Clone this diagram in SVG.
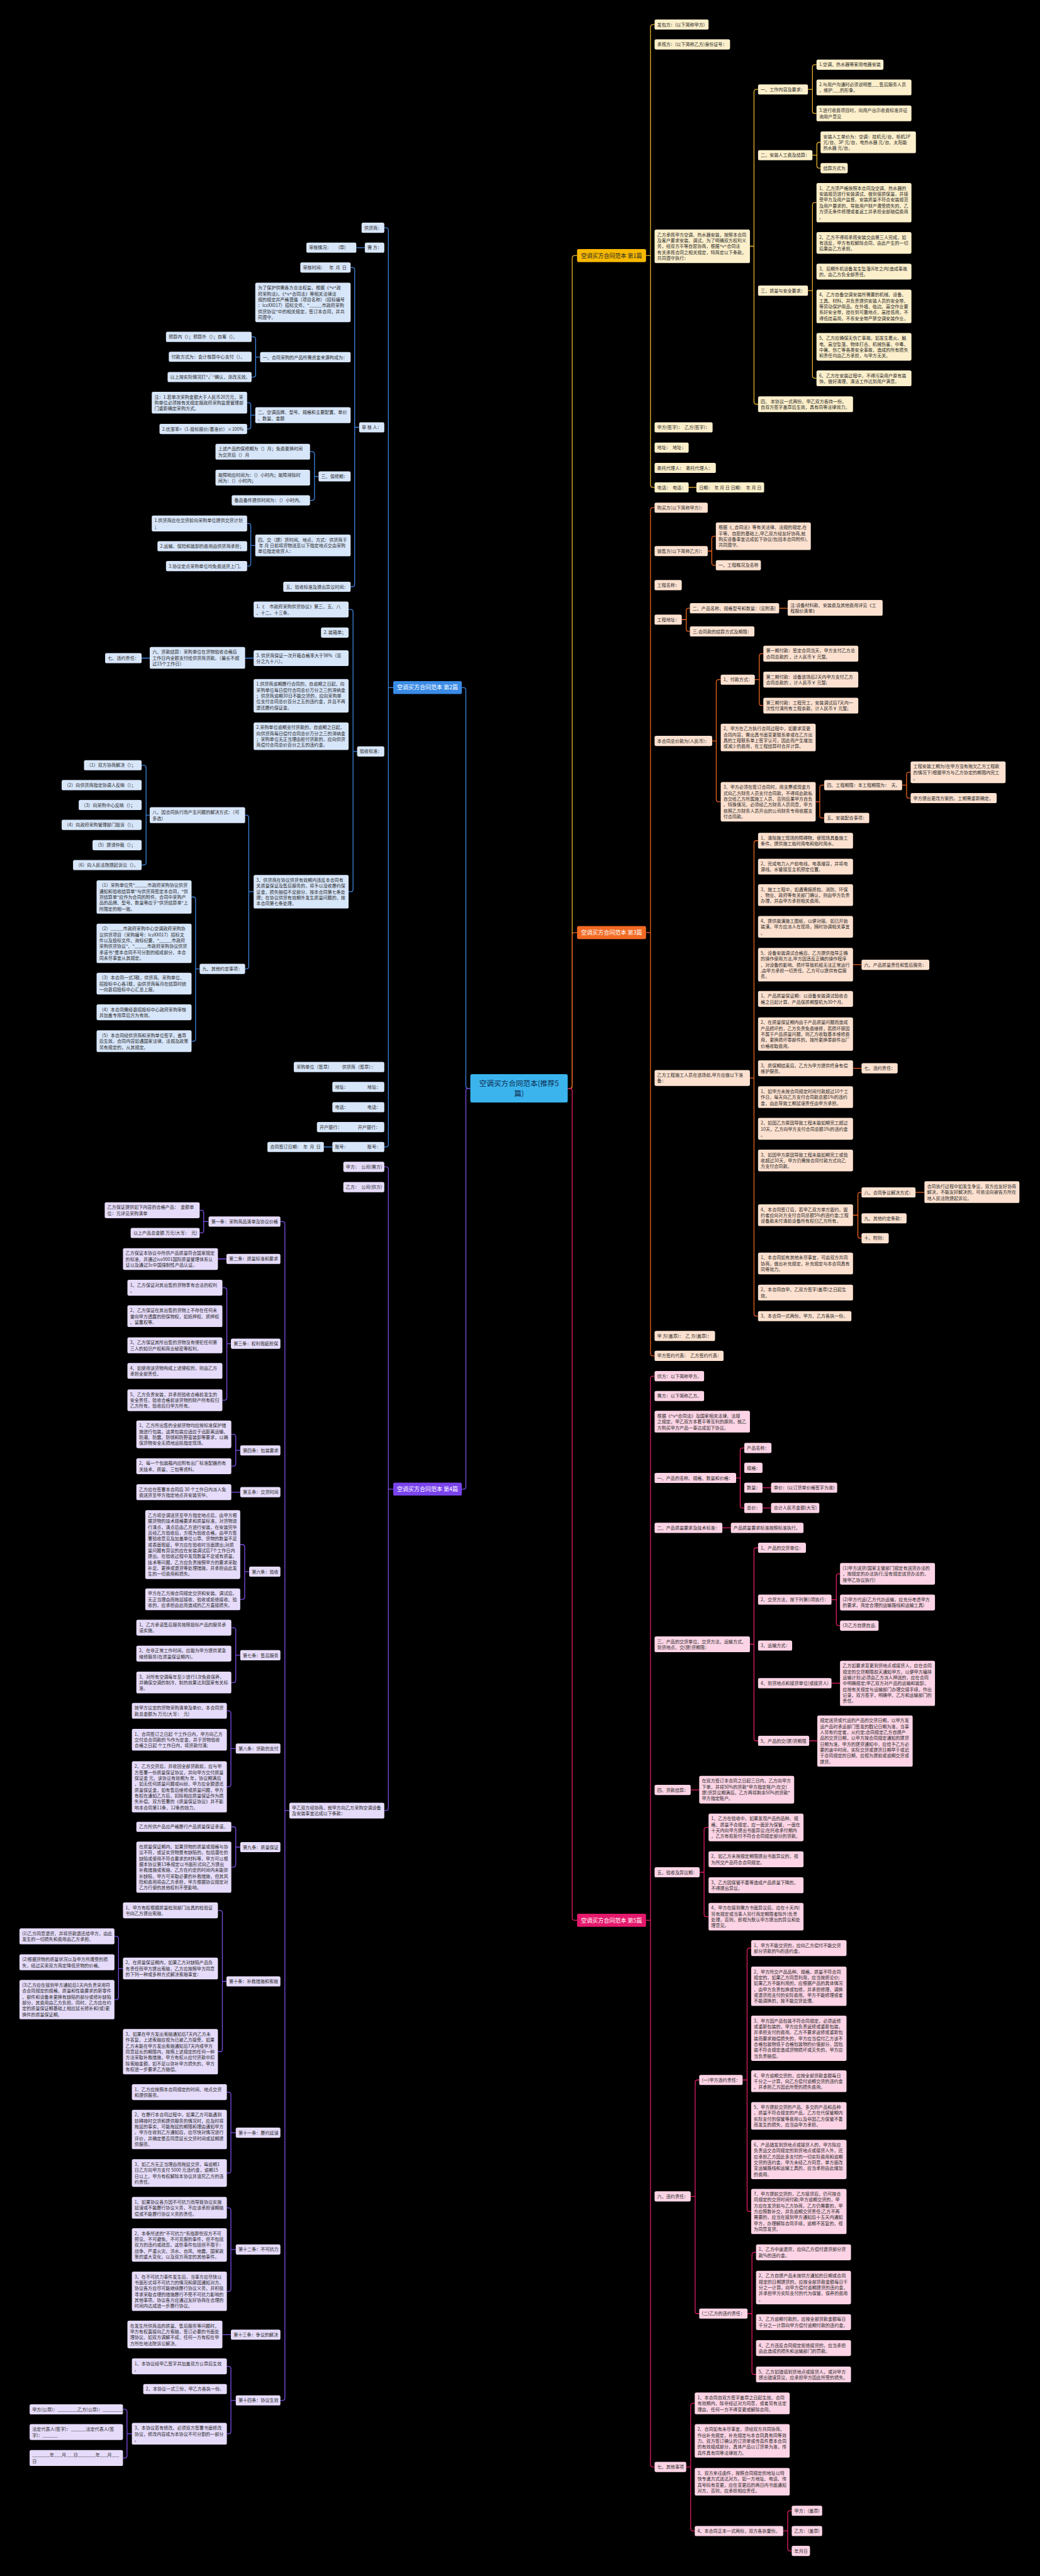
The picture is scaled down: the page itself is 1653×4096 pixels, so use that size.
<svg xmlns="http://www.w3.org/2000/svg" width="1653" height="4096" viewBox="0 0 1653 4096">
<style>
text{font-family:"Noto Sans CJK SC","Noto Sans",sans-serif;font-size:11px;fill:#2a2a2a}
.y rect{fill:#fcefcb}.o rect{fill:#fde1d0}.p rect{fill:#fcd4e5}.b rect{fill:#d8e6fa}.v rect{fill:#e6dcfa}
.lbl text{font-size:14px;fill:#fff;text-anchor:middle}
#links path{fill:none;stroke-width:2}
.cy{stroke:#e9b52c}.co{stroke:#ee6420}.cp{stroke:#e21d67}.cb{stroke:#3f87e3}.cv{stroke:#7d4fe6}
</style>
<rect width="1653" height="4096" fill="#000"/>
<g transform="scale(0.645)">
<g id="links">
<path class="cy" d="M1399,2683 H1404 Q1410,2683 1410,2677 V636 Q1410,630 1416,630 H1422"/>
<path class="co" d="M1399,2683 H1404 Q1410,2683 1410,2677 V2305 Q1410,2299 1416,2299 H1422"/>
<path class="cp" d="M1399,2683 H1404 Q1410,2683 1410,2689 V4728 Q1410,4734 1416,4734 H1422"/>
<path class="cb" d="M1159,2683 H1154 Q1148,2683 1148,2677 V1701 Q1148,1695 1142,1695 H1138"/>
<path class="cv" d="M1159,2683 H1154 Q1148,2683 1148,2689 V3665 Q1148,3671 1142,3671 H1138"/>
<path class="cy" d="M1592,630 H1603 M1613,60.5 H1609 Q1603,60.5 1603,66.5 V1195.5 Q1603,1201.5 1609,1201.5 H1613"/>
<path class="cy" d="M1695,1201.5 H1716"/>
<path class="cy" d="M1848,607 H1858 M1868,220.5 H1864 Q1858,220.5 1858,226.5 V990.5 Q1858,996.5 1864,996.5 H1868"/>
<path class="cy" d="M1991,220.5 H2002 M2012,159.5 H2008 Q2002,159.5 2002,165.5 V273.5 Q2002,279.5 2008,279.5 H2012"/>
<path class="cy" d="M2002,382.5 H2013 M2022,350.75 H2019 Q2013,350.75 2013,356.75 V408.5 Q2013,414.5 2019,414.5 H2022"/>
<path class="cy" d="M1991,716.5 H2002 M2012,499.5 H2008 Q2002,499.5 2002,505.5 V926.5 Q2002,932.5 2008,932.5 H2012"/>
<path class="co" d="M1592,2299 H1603 M1613,1251.5 H1609 Q1603,1251.5 1603,1257.5 V3336.5 Q1603,3342.5 1609,3342.5 H1613"/>
<path class="co" d="M1744,1358.5 H1754 M1764,1322 H1760 Q1754,1322 1754,1328 V1387.5 Q1754,1393.5 1760,1393.5 H1764"/>
<path class="co" d="M1680,1527.5 H1691 M1700,1499.5 H1697 Q1691,1499.5 1691,1505.5 V1550.5 Q1691,1556.5 1697,1556.5 H1700"/>
<path class="co" d="M1920,1499.5 H1941"/>
<path class="co" d="M1755,1826.5 H1765 M1776,1675.5 H1771 Q1765,1675.5 1765,1681.5 V1970.5 Q1765,1976.5 1771,1976.5 H1776"/>
<path class="co" d="M1860,1675.5 H1871 M1881,1611.5 H1877 Q1871,1611.5 1871,1617.5 V1733.5 Q1871,1739.5 1877,1739.5 H1881"/>
<path class="co" d="M2010,1976.5 H2020 M2031,1935.5 H2026 Q2020,1935.5 2020,1941.5 V2010.5 Q2020,2016.5 2026,2016.5 H2031"/>
<path class="co" d="M2223,1935.5 H2234 M2244,1903.75 H2240 Q2234,1903.75 2234,1909.75 V1961.5 Q2234,1967.5 2240,1967.5 H2244"/>
<path class="co" d="M1848,2657.5 H1858 M1868,2072.5 H1864 Q1858,2072.5 1858,2078.5 V3238.5 Q1858,3244.5 1864,3244.5 H1868"/>
<path class="co" d="M2102,2378.25 H2123 M2102,2633.5 H2123 M2256,2939.5 H2278"/>
<path class="co" d="M2102,2995.75 H2114 M2123,2939.5 H2120 Q2114,2939.5 2114,2945.5 V3046.5 Q2114,3052.5 2120,3052.5 H2123"/>
<path class="cp" d="M1592,4734 H1603 M1613,3392.5 H1609 Q1603,3392.5 1603,3398.5 V6075.5 Q1603,6081.5 1609,6081.5 H1613"/>
<path class="cp" d="M1814,3643.5 H1824 M1834,3569.5 H1830 Q1824,3569.5 1824,3575.5 V3711.5 Q1824,3717.5 1830,3717.5 H1834"/>
<path class="cp" d="M1879,3667.5 H1900 M1879,3717.5 H1900 M1780,3766.5 H1801 M2049,4149.5 H2070 M1994,4291.5 H2014 M1702,4412.5 H1723"/>
<path class="cp" d="M1848,4053.5 H1858 M1868,3815.5 H1864 Q1858,3815.5 1858,3821.5 V4285.5 Q1858,4291.5 1864,4291.5 H1868"/>
<path class="cp" d="M2049,3943.5 H2061 M2070,3879.75 H2067 Q2061,3879.75 2061,3885.75 V4001.5 Q2061,4007.5 2067,4007.5 H2070"/>
<path class="cp" d="M1724,4615.5 H1735 M1746,4505 H1741 Q1735,4505 1735,4511 V4719 Q1735,4725 1741,4725 H1746"/>
<path class="cp" d="M1702,5414.5 H1713 M1723,5127.5 H1719 Q1713,5127.5 1713,5133.5 V5697.5 Q1713,5703.5 1719,5703.5 H1723"/>
<path class="cp" d="M1830,5127.5 H1841 M1851,4802.5 H1847 Q1841,4802.5 1841,4808.5 V5445.75 Q1841,5451.75 1847,5451.75 H1851"/>
<path class="cp" d="M1842,5703.5 H1853 M1863,5552.5 H1859 Q1853,5552.5 1853,5558.5 V5847.5 Q1853,5853.5 1859,5853.5 H1863"/>
<path class="cp" d="M1691,6081.5 H1702 M1712,5924.75 H1708 Q1702,5924.75 1702,5930.75 V6233.5 Q1702,6239.5 1708,6239.5 H1712"/>
<path class="cp" d="M1930,6239.5 H1941 M1951,6189.5 H1947 Q1941,6189.5 1941,6195.5 V6282.5 Q1941,6288.5 1947,6288.5 H1951"/>
<path class="cb" d="M969,1695 H957 M947,561.5 H951 Q957,561.5 957,567.5 V2821.5 Q957,2827.5 951,2827.5 H947"/>
<path class="cb" d="M899,610.5 H878 M819,2827.5 H798 M625,1622.5 H604 M369,1622.5 H349"/>
<path class="cb" d="M885,1053.5 H874 M864,659.5 H868 Q874,659.5 874,665.5 V1440.5 Q874,1446.5 868,1446.5 H864"/>
<path class="cb" d="M641,880.5 H630 M620,830.5 H624 Q630,830.5 630,836.5 V923.5 Q630,929.5 624,929.5 H620"/>
<path class="cb" d="M629,1023.5 H618 M609,992.75 H612 Q618,992.75 618,998.75 V1051.5 Q618,1057.5 612,1057.5 H609"/>
<path class="cb" d="M785,1174.5 H775 M764,1113.5 H769 Q775,1113.5 775,1119.5 V1227.5 Q775,1233.5 769,1233.5 H764"/>
<path class="cb" d="M629,1344.75 H618 M609,1290.5 H612 Q618,1290.5 618,1296.5 V1389.5 Q618,1395.5 612,1395.5 H609"/>
<path class="cb" d="M880,1852.5 H870 M859,1502.5 H864 Q870,1502.5 870,1508.5 V2192.25 Q870,2198.25 864,2198.25 H859"/>
<path class="cb" d="M625,2198.25 H613 M604,2009.5 H607 Q613,2009.5 613,2015.5 V2382.5 Q613,2388.5 607,2388.5 H604"/>
<path class="cb" d="M369,2009.5 H360 M349,1886.5 H354 Q360,1886.5 360,1892.5 V2126.5 Q360,2132.5 354,2132.5 H349"/>
<path class="cb" d="M492,2388.5 H482 M472,2211.25 H476 Q482,2211.25 482,2217.25 V2560.75 Q482,2566.75 476,2566.75 H472"/>
<path class="cv" d="M969,3671 H957 M947,2876.5 H951 Q957,2876.5 957,2882.5 V4457.5 Q957,4463.5 951,4463.5 H947"/>
<path class="cv" d="M713,4463.5 H702 M691,3011.5 H696 Q702,3011.5 702,3017.5 V5911.5 Q702,5917.5 696,5917.5 H691"/>
<path class="cv" d="M514,3011.5 H502 M492,2983.5 H496 Q502,2983.5 502,2989.5 V3033.5 Q502,3039.5 496,3039.5 H492"/>
<path class="cv" d="M558,3103.5 H537 M592,3678.5 H570 M569,5755.5 H548"/>
<path class="cv" d="M569,3312.5 H559 M548,3174.5 H553 Q559,3174.5 559,3180.5 V3445.75 Q559,3451.75 553,3451.75 H548"/>
<path class="cv" d="M592,3575.5 H581 M570,3536 H575 Q581,3536 581,3542 V3608.5 Q581,3614.5 575,3614.5 H570"/>
<path class="cv" d="M614,3874.5 H603 M592,3807.75 H597 Q603,3807.75 603,3813.75 V3936.75 Q603,3942.75 597,3942.75 H592"/>
<path class="cv" d="M592,4080.5 H581 M570,4012.5 H575 Q581,4012.5 581,4018.5 V4141.75 Q581,4147.75 575,4147.75 H570"/>
<path class="cv" d="M581,4310.5 H569 M559,4217.5 H563 Q569,4217.5 569,4223.5 V4399 Q569,4405 563,4405 H559"/>
<path class="cv" d="M592,4553.5 H581 M570,4503.5 H575 Q581,4503.5 581,4509.5 V4597 Q581,4603 575,4603 H570"/>
<path class="cv" d="M558,4884.5 H548 M537,4709.5 H542 Q548,4709.5 548,4715.5 V5051.75 Q548,5057.75 542,5057.75 H537"/>
<path class="cv" d="M303,4852.75 H292 M282,4773.5 H286 Q292,4773.5 292,4779.5 V4923.5 Q292,4929.5 286,4929.5 H282"/>
<path class="cv" d="M581,5257.5 H569 M559,5157.5 H563 Q569,5157.5 569,5163.5 V5351 Q569,5357 563,5357 H559"/>
<path class="cv" d="M581,5545.5 H569 M559,5442.75 H563 Q569,5442.75 569,5448.75 V5642.5 Q569,5648.5 563,5648.5 H559"/>
<path class="cv" d="M581,5917.5 H569 M559,5833.5 H563 Q569,5833.5 569,5839.5 V5993.75 Q569,5999.75 563,5999.75 H559"/>
<path class="cv" d="M325,5999.75 H313 M303,5939.5 H307 Q313,5939.5 313,5945.5 V6053.5 Q313,6059.5 307,6059.5 H303"/>
</g>

<g id="center" transform="translate(1159,2648)"><rect width="240" height="70" rx="5" fill="#3bb4ee"/><text x="120" y="29" style="font-size:18px;fill:#0d2b4d;text-anchor:middle">空调买方合同范本(推荐5</text><text x="120" y="55" style="font-size:18px;fill:#0d2b4d;text-anchor:middle">篇)</text></g>
<g id="label1" class="lbl" transform="translate(1422,614)"><rect width="170" height="32" rx="4" fill="#f6b800"/><text x="85" y="21" style="fill:#2a2a2a">空调买方合同范本 第1篇</text></g>
<g id="label3" class="lbl" transform="translate(1422,2283)"><rect width="170" height="32" rx="4" fill="#f26a24"/><text x="85" y="21">空调买方合同范本 第3篇</text></g>
<g id="label5" class="lbl" transform="translate(1422,4718)"><rect width="170" height="32" rx="4" fill="#e5196c"/><text x="85" y="21">空调买方合同范本 第5篇</text></g>
<g id="label2" class="lbl" transform="translate(969,1679)"><rect width="169" height="32" rx="4" fill="#3a8be6"/><text x="84.5" y="21">空调买方合同范本 第2篇</text></g>
<g id="label4" class="lbl" transform="translate(969,3655)"><rect width="169" height="32" rx="4" fill="#7a44ec"/><text x="84.5" y="21">空调买方合同范本 第4篇</text></g>

<g id="b1" class="y">
<g id="A1" transform="translate(1613,48)"><rect width="133" height="25" rx="4"/><text x="6.5" y="16.5">发包方：(以下简称甲方)</text></g>
<g id="A2" transform="translate(1613,97)"><rect width="186" height="25" rx="4"/><text x="6.5" y="16.5">承揽方：(以下简称乙方)身份证号：</text></g>
<g id="A3" transform="translate(1613,566)"><rect width="235" height="82.5" rx="4"/><text y="16.5"><tspan x="6.5">乙方承揽甲方空调、热水器安装，按照本合同</tspan><tspan x="6.5" dy="14.5">及客户要求安装、调试。为了明确双方权利义</tspan><tspan x="6.5" dy="14.5">务，经双方平等自愿协商，根据^v^合同法</tspan><tspan x="6.5" dy="14.5">有关承揽合同之相关规定，特商定以下条款，</tspan><tspan x="6.5" dy="14.5">共同遵守执行：</tspan></text></g>
<g id="A4" transform="translate(1613,1041)"><rect width="143" height="25" rx="4"/><text x="6.5" y="16.5" xml:space="preserve">甲方(签字)：  乙方(签字)：</text></g>
<g id="A5" transform="translate(1613,1091)"><rect width="84" height="25" rx="4"/><text x="6.5" y="16.5" xml:space="preserve">地址：  地址：</text></g>
<g id="A6" transform="translate(1613,1141)"><rect width="151" height="25" rx="4"/><text x="6.5" y="16.5" xml:space="preserve">委托代理人：  委托代理人：</text></g>
<g id="A7" transform="translate(1613,1189)"><rect width="84" height="25" rx="4"/><text x="6.5" y="16.5" xml:space="preserve">电话：  电话：</text></g>
<g id="A7a" transform="translate(1716,1189)"><rect width="167" height="25" rx="4"/><text x="6.5" y="16.5" xml:space="preserve">日期：  年 月 日 日期：  年 月 日</text></g>
<g id="B1" transform="translate(1868,208)"><rect width="123" height="25" rx="4"/><text x="6.5" y="16.5">一、工作内容及要求：</text></g>
<g id="B2" transform="translate(1868,370)"><rect width="134" height="25" rx="4"/><text x="6.5" y="16.5">二、安装人工费及结算：</text></g>
<g id="B3" transform="translate(1868,704)"><rect width="123" height="25" rx="4"/><text x="6.5" y="16.5">三、质量与安全要求：</text></g>
<g id="B4" transform="translate(1868,977)"><rect width="234" height="39" rx="4"/><text y="16.5"><tspan x="6.5">四、 本协议一式两份，甲乙双方各持一份，</tspan><tspan x="6.5" dy="14.5">自双方签字盖章后生效，具有同等法律效力。</tspan></text></g>
<g id="C1" transform="translate(2012,147)"><rect width="165" height="25" rx="4"/><text x="6.5" y="16.5">1.空调、热水器等家用电器安装</text></g>
<g id="C2" transform="translate(2012,196)"><rect width="234" height="39" rx="4"/><text y="16.5"><tspan x="6.5">2.与用户沟通时必须说明是___售后服务人员</tspan><tspan x="6.5" dy="14.5">，维护___的形象。</tspan></text></g>
<g id="C3" transform="translate(2012,260)"><rect width="234" height="39" rx="4"/><text y="16.5"><tspan x="6.5">3.进行收费项目时，向用户出示收费标准并征</tspan><tspan x="6.5" dy="14.5">询用户意见</tspan></text></g>
<g id="C4" transform="translate(2022,324)"><rect width="235" height="53.5" rx="4"/><text y="16.5"><tspan x="6.5">安装人工单价为：空调：挂机元/台、柜机2P</tspan><tspan x="6.5" dy="14.5">元/台、3P 元/台，电热水器 元/台、太阳能</tspan><tspan x="6.5" dy="14.5">热水器 元/台。</tspan></text></g>
<g id="C5" transform="translate(2022,402)"><rect width="67" height="25" rx="4"/><text x="6.5" y="16.5">结算方式为</text></g>
<g id="C6" transform="translate(2012,451)"><rect width="234" height="97" rx="4"/><text y="16.5"><tspan x="6.5">1、乙方须严格按照本合同及空调、热水器的</tspan><tspan x="6.5" dy="14.5">安装规范进行安装调试，做到保质保量，并接</tspan><tspan x="6.5" dy="14.5">受甲方及用户监督。安装质量不符合安装规范</tspan><tspan x="6.5" dy="14.5">及用户要求的、导致用户财产遭受损失的，乙</tspan><tspan x="6.5" dy="14.5">方须无条件修理或者返工并承担全部赔偿费用</tspan><tspan x="6.5" dy="14.5">。</tspan></text></g>
<g id="C7" transform="translate(2012,572)"><rect width="234" height="53.5" rx="4"/><text y="16.5"><tspan x="6.5">2、乙方不得将承揽安装交由第三人完成，如</tspan><tspan x="6.5" dy="14.5">有违反，甲方有权解除合同，由此产生的一切</tspan><tspan x="6.5" dy="14.5">后果由乙方承担。</tspan></text></g>
<g id="C8" transform="translate(2012,650)"><rect width="234" height="39" rx="4"/><text y="16.5"><tspan x="6.5">3、后期外机设备发生坠落(6年之内)造成事故</tspan><tspan x="6.5" dy="14.5">的，由乙方负全部责任。</tspan></text></g>
<g id="C9" transform="translate(2012,714)"><rect width="234" height="82.5" rx="4"/><text y="16.5"><tspan x="6.5">4、乙方自备空调安装所需要的机械、设备、</tspan><tspan x="6.5" dy="14.5">工具、材料，并负责提供安装人员的安全带、</tspan><tspan x="6.5" dy="14.5">等劳动保护用品。在外墙、临边、高空作业要</tspan><tspan x="6.5" dy="14.5">系好安全带，挂在到可靠地点，高挂低用，不</tspan><tspan x="6.5" dy="14.5">得低挂高用，不系安全带严禁空调安装作业。</tspan></text></g>
<g id="C10" transform="translate(2012,821)"><rect width="234" height="68" rx="4"/><text y="16.5"><tspan x="6.5">5、乙方应确保无伤亡事故。如发生着火、触</tspan><tspan x="6.5" dy="14.5">电、高空坠落、物体打击、机械伤害、中毒、</tspan><tspan x="6.5" dy="14.5">中暑、伤亡等各类安全事故，造成的所有损失</tspan><tspan x="6.5" dy="14.5">和责任均由乙方承担，与甲方无关。</tspan></text></g>
<g id="C11" transform="translate(2012,913)"><rect width="234" height="39" rx="4"/><text y="16.5"><tspan x="6.5">6、乙方在安装过程中，不得污染用户原有装</tspan><tspan x="6.5" dy="14.5">饰，做好清理、清洁工作达到用户满意。</tspan></text></g>
</g>

<g id="b3" class="o">
<g id="D1" transform="translate(1613,1239)"><rect width="131" height="25" rx="4"/><text x="6.5" y="16.5">购买方(以下简称甲方)：</text></g>
<g id="D2" transform="translate(1613,1346)"><rect width="131" height="25" rx="4"/><text x="6.5" y="16.5">销售方(以下简称乙方)：</text></g>
<g id="D3" transform="translate(1613,1430)"><rect width="67" height="25" rx="4"/><text x="6.5" y="16.5">工程名称：</text></g>
<g id="D4" transform="translate(1613,1515)"><rect width="67" height="25" rx="4"/><text x="6.5" y="16.5">工程地址：</text></g>
<g id="D5" transform="translate(1613,1814)"><rect width="142" height="25" rx="4"/><text x="6.5" y="16.5">本合同总价款为(人民币)：</text></g>
<g id="D6" transform="translate(1613,2638)"><rect width="235" height="39" rx="4"/><text y="16.5"><tspan x="6.5">乙方工程施工人员在进场前,甲方应做以下准</tspan><tspan x="6.5" dy="14.5">备：</tspan></text></g>
<g id="D7" transform="translate(1613,3281)"><rect width="149" height="25" rx="4"/><text x="6.5" y="16.5" xml:space="preserve">甲 方(盖章)：  乙 方(盖章)：</text></g>
<g id="D8" transform="translate(1613,3330)"><rect width="170" height="25" rx="4"/><text x="6.5" y="16.5" xml:space="preserve">甲方签约代表：  乙方签约代表：</text></g>
<g id="E1" transform="translate(1764,1288)"><rect width="234" height="68" rx="4"/><text y="16.5"><tspan x="6.5">根据《_合同法》等有关法律、法规的规定,在</tspan><tspan x="6.5" dy="14.5">平等、自愿的基础上,甲乙双方经友好协商,就</tspan><tspan x="6.5" dy="14.5">购买设备事宜达成如下协议(包括本合同附件),</tspan><tspan x="6.5" dy="14.5">共同遵守。</tspan></text></g>
<g id="E2" transform="translate(1764,1381)"><rect width="111" height="25" rx="4"/><text x="6.5" y="16.5">一、工程概况及名称</text></g>
<g id="E3" transform="translate(1700,1487)"><rect width="220" height="25" rx="4"/><text x="6.5" y="16.5">二、产品名称、规格型号和数量：(见附表)</text></g>
<g id="E3a" transform="translate(1941,1479)"><rect width="234" height="39" rx="4"/><text y="16.5"><tspan x="6.5">注:设备材料款、安装费及其他费用详见《工</tspan><tspan x="6.5" dy="14.5">程报价清单》</tspan></text></g>
<g id="E4" transform="translate(1700,1544)"><rect width="159" height="25" rx="4"/><text x="6.5" y="16.5">三.合同款的结算方式及期限：</text></g>
<g id="E5" transform="translate(1776,1663)"><rect width="84" height="25" rx="4"/><text x="6.5" y="16.5">1、付款方式：</text></g>
<g id="E6" transform="translate(1776,1784)"><rect width="234" height="68" rx="4"/><text y="16.5"><tspan x="6.5">2、甲方在乙方执行合同过程中，如要求变更</tspan><tspan x="6.5" dy="14.5">合同内容，需出具书面变更联系单或在乙方出</tspan><tspan x="6.5" dy="14.5">具的工程联系单上签字认可，因此而产生增加</tspan><tspan x="6.5" dy="14.5">或减少的费用，在工程结算时合并计算。</tspan></text></g>
<g id="E7" transform="translate(1776,1928)"><rect width="234" height="97" rx="4"/><text y="16.5"><tspan x="6.5">3、甲方必须在签订合同时，用支票或现金方</tspan><tspan x="6.5" dy="14.5">式向乙方财务人员支付合同款，不得将此款私</tspan><tspan x="6.5" dy="14.5">自交给乙方所属施工人员，否则后果甲方自负</tspan><tspan x="6.5" dy="14.5">。特殊情况，必须经乙方财务人员同意，甲方</tspan><tspan x="6.5" dy="14.5">依照乙方财务人员开出的公司财务专用收据支</tspan><tspan x="6.5" dy="14.5">付合同款。</tspan></text></g>
<g id="F1" transform="translate(1881,1592)"><rect width="234" height="39" rx="4"/><text y="16.5"><tspan x="6.5">第一期付款：签定合同当天，甲方支付乙方总</tspan><tspan x="6.5" dy="14.5">合同总款的 ，计人民币￥ 元整,</tspan></text></g>
<g id="F2" transform="translate(1881,1656)"><rect width="234" height="39" rx="4"/><text y="16.5"><tspan x="6.5">第二期付款：设备进场后2天内甲方支付乙方</tspan><tspan x="6.5" dy="14.5">合同总款的 ，计人民币￥ 元整;</tspan></text></g>
<g id="F3" transform="translate(1881,1720)"><rect width="234" height="39" rx="4"/><text y="16.5"><tspan x="6.5">第三期付款：工程完工，安装调试后7天内一</tspan><tspan x="6.5" dy="14.5">次性付清所有工程余款，计人民币￥ 元整;</tspan></text></g>
<g id="F4" transform="translate(2031,1923)"><rect width="192" height="25" rx="4"/><text x="6.5" y="16.5" xml:space="preserve">四、工程期限：本工程期限为：  天。</text></g>
<g id="F5" transform="translate(2031,2004)"><rect width="111" height="25" rx="4"/><text x="6.5" y="16.5">五、安装配合事项：</text></g>
<g id="G1" transform="translate(2244,1877)"><rect width="234" height="53.5" rx="4"/><text y="16.5"><tspan x="6.5">工程安装工期为(在甲方没有拖欠乙方工程款</tspan><tspan x="6.5" dy="14.5">的情况下)根据甲方与乙方协定的期限内完工</tspan><tspan x="6.5" dy="14.5">。</tspan></text></g>
<g id="G2" transform="translate(2244,1955)"><rect width="212" height="25" rx="4"/><text x="6.5" y="16.5">甲方提出更改方案的，工期需重新确定。</text></g>
<g id="H1" transform="translate(1868,2053)"><rect width="234" height="39" rx="4"/><text y="16.5"><tspan x="6.5">1、清除施工现场的障碍物，使现场具备施工</tspan><tspan x="6.5" dy="14.5">条件。提供施工临时用电和临时用水。</tspan></text></g>
<g id="H2" transform="translate(1868,2117)"><rect width="234" height="39" rx="4"/><text y="16.5"><tspan x="6.5">2、完成电力入户前电线，电表增容，并将电</tspan><tspan x="6.5" dy="14.5">源线、水管接至主机预定位置。</tspan></text></g>
<g id="H3" transform="translate(1868,2180)"><rect width="234" height="53.5" rx="4"/><text y="16.5"><tspan x="6.5">3、施工工程中，如遇需报质检、消防、环保</tspan><tspan x="6.5" dy="14.5">、物业、政府等有关部门确认，则由甲方负责</tspan><tspan x="6.5" dy="14.5">办理，并由甲方承担相关费用。</tspan></text></g>
<g id="H4" transform="translate(1868,2258)"><rect width="234" height="53.5" rx="4"/><text y="16.5"><tspan x="6.5">4、提供装潢施工图纸，以便对接。如已开始</tspan><tspan x="6.5" dy="14.5">装潢，甲方应派人在现场，随时协调相关事宜</tspan><tspan x="6.5" dy="14.5">。</tspan></text></g>
<g id="H5" transform="translate(1868,2337)"><rect width="234" height="82.5" rx="4"/><text y="16.5"><tspan x="6.5">5、设备安装调试合格后，乙方提供指导正确</tspan><tspan x="6.5" dy="14.5">的操作使用方法,甲方因违反正确的操作程序</tspan><tspan x="6.5" dy="14.5">，对设备的影响、损坏导致机组无法正常运行</tspan><tspan x="6.5" dy="14.5">,由甲方承担一切责任。乙方可以提供有偿服</tspan><tspan x="6.5" dy="14.5">务。</tspan></text></g>
<g id="H5a" transform="translate(2123,2366)"><rect width="167" height="25" rx="4"/><text x="6.5" y="16.5">六、产品质量责任和售后服务：</text></g>
<g id="H6" transform="translate(1868,2443)"><rect width="234" height="39" rx="4"/><text y="16.5"><tspan x="6.5">1、产品质量保证期：以设备安装调试验收合</tspan><tspan x="6.5" dy="14.5">格之日起计算，产品保质期整机为30个月。</tspan></text></g>
<g id="H7" transform="translate(1868,2508)"><rect width="234" height="82.5" rx="4"/><text y="16.5"><tspan x="6.5">2、在质量保证期内由于产品质量问题而造成</tspan><tspan x="6.5" dy="14.5">产品损坏的，乙方负责免费维修，若损坏原因</tspan><tspan x="6.5" dy="14.5">不属于产品质量问题，则乙方收取基本维修费</tspan><tspan x="6.5" dy="14.5">用，更换损坏零部件的，按所更换零部件出厂</tspan><tspan x="6.5" dy="14.5">价格收取费用。</tspan></text></g>
<g id="H8" transform="translate(1868,2614)"><rect width="234" height="39" rx="4"/><text y="16.5"><tspan x="6.5">3、质保期结束后，乙方为甲方提供终身有偿</tspan><tspan x="6.5" dy="14.5">维护服务。</tspan></text></g>
<g id="H8a" transform="translate(2123,2621)"><rect width="89" height="25" rx="4"/><text x="6.5" y="16.5">七、违约责任：</text></g>
<g id="H9" transform="translate(1868,2678)"><rect width="234" height="53.5" rx="4"/><text y="16.5"><tspan x="6.5">1、如甲方未按合同规定时间付款超过10个工</tspan><tspan x="6.5" dy="14.5">作日，每天向乙方支付合同款总额1%的违约</tspan><tspan x="6.5" dy="14.5">金，由此导致工期延误责任由甲方承担。</tspan></text></g>
<g id="H10" transform="translate(1868,2756)"><rect width="234" height="53.5" rx="4"/><text y="16.5"><tspan x="6.5">2、如因乙方原因导致工程未能如期完工超过</tspan><tspan x="6.5" dy="14.5">10天，乙方向甲方支付合同总额1%的违约金</tspan><tspan x="6.5" dy="14.5">。</tspan></text></g>
<g id="H11" transform="translate(1868,2834)"><rect width="234" height="53.5" rx="4"/><text y="16.5"><tspan x="6.5">3、如因甲方原因导致工程未能如期完工或验</tspan><tspan x="6.5" dy="14.5">收超过30天，甲方仍需按合同付款方式向乙</tspan><tspan x="6.5" dy="14.5">方支付合同款。</tspan></text></g>
<g id="H12" transform="translate(1868,2969)"><rect width="234" height="53.5" rx="4"/><text y="16.5"><tspan x="6.5">4、本合同签订后，若甲乙双方单方毁约，毁</tspan><tspan x="6.5" dy="14.5">约者应向对方支付合同总额5%的违约金;工程</tspan><tspan x="6.5" dy="14.5">设备款未付清前设备所有权归乙方所有。</tspan></text></g>
<g id="H12a" transform="translate(2123,2927)"><rect width="133" height="25" rx="4"/><text x="6.5" y="16.5">八、合同争议解决方式：</text></g>
<g id="H12a1" transform="translate(2278,2912)"><rect width="234" height="53.5" rx="4"/><text y="16.5"><tspan x="6.5">合同执行过程中如发生争议，双方应友好协商</tspan><tspan x="6.5" dy="14.5">解决，不能友好解决的，可依法向被告方所在</tspan><tspan x="6.5" dy="14.5">地人民法院提起诉讼。</tspan></text></g>
<g id="H12b" transform="translate(2123,2991)"><rect width="111" height="25" rx="4"/><text x="6.5" y="16.5">九、其他约定条款：</text></g>
<g id="H12c" transform="translate(2123,3040)"><rect width="67" height="25" rx="4"/><text x="6.5" y="16.5">十、附则：</text></g>
<g id="H13" transform="translate(1868,3088)"><rect width="234" height="53.5" rx="4"/><text y="16.5"><tspan x="6.5">1、本合同如有其他未尽事宜，可由双方共同</tspan><tspan x="6.5" dy="14.5">协商，做出补充规定，补充规定与本合同具有</tspan><tspan x="6.5" dy="14.5">同等效力。</tspan></text></g>
<g id="H14" transform="translate(1868,3167)"><rect width="234" height="39" rx="4"/><text y="16.5"><tspan x="6.5">2、本合同自甲、乙双方签字(盖章)之日起生</tspan><tspan x="6.5" dy="14.5">效。</tspan></text></g>
<g id="H15" transform="translate(1868,3232)"><rect width="230" height="25" rx="4"/><text x="6.5" y="16.5">3、本合同一式两份，甲方、乙方各执一份。</text></g>
</g>

<g id="b5" class="p">
<g id="I1" transform="translate(1613,3380)"><rect width="122" height="25" rx="4"/><text x="6.5" y="16.5">供方：以下简称甲方。</text></g>
<g id="I2" transform="translate(1613,3429)"><rect width="122" height="25" rx="4"/><text x="6.5" y="16.5">需方：以下简称乙方。</text></g>
<g id="I3" transform="translate(1613,3478)"><rect width="235" height="53.5" rx="4"/><text y="16.5"><tspan x="6.5">根据《^v^合同法》及国家相关法律、法规</tspan><tspan x="6.5" dy="14.5">之规定，甲乙双方本着平等互利的原则，就乙</tspan><tspan x="6.5" dy="14.5">方购买甲方产品一事达成如下协议。</tspan></text></g>
<g id="I4" transform="translate(1613,3631)"><rect width="201" height="25" rx="4"/><text x="6.5" y="16.5">一、产品的名称、规格、数量和价格：</text></g>
<g id="I5" transform="translate(1613,3754)"><rect width="167" height="25" rx="4"/><text x="6.5" y="16.5">二、产品质量要求及技术标准：</text></g>
<g id="I6" transform="translate(1613,4034)"><rect width="235" height="39" rx="4"/><text y="16.5"><tspan x="6.5">三、产品的交货单位、交货方法、运输方式、</tspan><tspan x="6.5" dy="14.5">到货地点、交(提)货期限：</tspan></text></g>
<g id="I7" transform="translate(1613,4400)"><rect width="89" height="25" rx="4"/><text x="6.5" y="16.5">四、货款结算：</text></g>
<g id="I8" transform="translate(1613,4603)"><rect width="111" height="25" rx="4"/><text x="6.5" y="16.5">五、验收及异议期：</text></g>
<g id="I9" transform="translate(1613,5402)"><rect width="89" height="25" rx="4"/><text x="6.5" y="16.5">六、违约责任：</text></g>
<g id="I10" transform="translate(1613,6069)"><rect width="78" height="25" rx="4"/><text x="6.5" y="16.5">七、其他事项</text></g>
<g id="J1" transform="translate(1834,3557)"><rect width="67" height="25" rx="4"/><text x="6.5" y="16.5">产品名称：</text></g>
<g id="J2" transform="translate(1834,3606)"><rect width="45" height="25" rx="4"/><text x="6.5" y="16.5">规格：</text></g>
<g id="J3" transform="translate(1834,3655)"><rect width="45" height="25" rx="4"/><text x="6.5" y="16.5">数量：</text></g>
<g id="J3a" transform="translate(1900,3655)"><rect width="163" height="25" rx="4"/><text x="6.5" y="16.5">单价：(以订货单价格签字为准)</text></g>
<g id="J4" transform="translate(1834,3705)"><rect width="45" height="25" rx="4"/><text x="6.5" y="16.5">总价：</text></g>
<g id="J4a" transform="translate(1900,3705)"><rect width="119" height="25" rx="4"/><text x="6.5" y="16.5">合计人民币金额(大写)</text></g>
<g id="J5" transform="translate(1801,3754)"><rect width="179" height="25" rx="4"/><text x="6.5" y="16.5">产品质量要求标准按照标准执行。</text></g>
<g id="K1" transform="translate(1868,3803)"><rect width="118" height="25" rx="4"/><text x="6.5" y="16.5">1、产品的交货单位：</text></g>
<g id="K2" transform="translate(1868,3931)"><rect width="181" height="25" rx="4"/><text x="6.5" y="16.5">2、交货方法，按下列第()项执行：</text></g>
<g id="K2a" transform="translate(2070,3853)"><rect width="234" height="53.5" rx="4"/><text y="16.5"><tspan x="6.5">(1)甲方送货(国家主管部门规定有送货办法的</tspan><tspan x="6.5" dy="14.5">，按规定的办法执行;没有规定送货办法的，</tspan><tspan x="6.5" dy="14.5">按甲乙协议执行)</tspan></text></g>
<g id="K2b" transform="translate(2070,3931)"><rect width="234" height="39" rx="4"/><text y="16.5"><tspan x="6.5">(2)甲方代运(乙方代办运输，应充分考虑甲方</tspan><tspan x="6.5" dy="14.5">的要求，商定合理的运输路线和运输工具)</tspan></text></g>
<g id="K2c" transform="translate(2070,3995)"><rect width="95" height="25" rx="4"/><text x="6.5" y="16.5">(3)乙方自提自运.</text></g>
<g id="K3" transform="translate(1868,4044)"><rect width="84" height="25" rx="4"/><text x="6.5" y="16.5">3、运输方式：</text></g>
<g id="K4" transform="translate(1868,4137)"><rect width="181" height="25" rx="4"/><text x="6.5" y="16.5">4、到货地点和接货单位(或接货人)</text></g>
<g id="K4a" transform="translate(2070,4094)"><rect width="234" height="111.5" rx="4"/><text y="16.5"><tspan x="6.5">乙方如要求变更到货地点或接货人，应在合同</tspan><tspan x="6.5" dy="14.5">规定的交货期限前天通知甲方，以便甲方编排</tspan><tspan x="6.5" dy="14.5">运输计划;必须由乙方派人押送的，应在合同</tspan><tspan x="6.5" dy="14.5">中明确规定;甲乙双方对产品的运输和装卸，</tspan><tspan x="6.5" dy="14.5">应按有关规定与运输部门办理交接手续，作出</tspan><tspan x="6.5" dy="14.5">记录，双方签字，明确甲、乙方和运输部门的</tspan><tspan x="6.5" dy="14.5">责任。</tspan></text></g>
<g id="K5" transform="translate(1868,4279)"><rect width="126" height="25" rx="4"/><text x="6.5" y="16.5">5、产品的交(提)货期限</text></g>
<g id="K5a" transform="translate(2014,4229)"><rect width="235" height="126" rx="4"/><text y="16.5"><tspan x="6.5">规定送货或代运的产品的交货日期，以甲方发</tspan><tspan x="6.5" dy="14.5">运产品时承运部门签发的戳记日期为准，当事</tspan><tspan x="6.5" dy="14.5">人另有约定者，从约定;合同规定乙方自提产</tspan><tspan x="6.5" dy="14.5">品的交货日期，以甲方按合同规定通知的提货</tspan><tspan x="6.5" dy="14.5">日期为准。甲方的提货通知中，应给予乙方必</tspan><tspan x="6.5" dy="14.5">要的途中时间，实际交货或提货日期早于或迟</tspan><tspan x="6.5" dy="14.5">于合同规定的日期，应视为提前或逾期交货或</tspan><tspan x="6.5" dy="14.5">提货。</tspan></text></g>
<g id="K6" transform="translate(1723,4378)"><rect width="234" height="68" rx="4"/><text y="16.5"><tspan x="6.5">在双方签订本合同之日起三日内，乙方向甲方</tspan><tspan x="6.5" dy="14.5">下单，并将50%的货款*甲方指定账户;在交(</tspan><tspan x="6.5" dy="14.5">提)货异议期满后，乙方再将剩余50%的货款*</tspan><tspan x="6.5" dy="14.5">甲方指定账户。</tspan></text></g>
<g id="M1" transform="translate(1746,4471)"><rect width="234" height="68" rx="4"/><text y="16.5"><tspan x="6.5">1、乙方在验收中，如果发现产品的品种、规</tspan><tspan x="6.5" dy="14.5">格、质量不合规定，应一面妥为保管，一面在</tspan><tspan x="6.5" dy="14.5">十天内向甲方提出书面异议;在托收承付期内</tspan><tspan x="6.5" dy="14.5">，乙方有权拒付不符合合同规定部分的货款。</tspan></text></g>
<g id="M2" transform="translate(1746,4564)"><rect width="234" height="39" rx="4"/><text y="16.5"><tspan x="6.5">2、如乙方未按规定期限提出书面异议的，视</tspan><tspan x="6.5" dy="14.5">为所交产品符合合同规定。</tspan></text></g>
<g id="M3" transform="translate(1746,4628)"><rect width="234" height="39" rx="4"/><text y="16.5"><tspan x="6.5">3、乙方因保管不善等造成产品质量下降的，</tspan><tspan x="6.5" dy="14.5">不得提出异议。</tspan></text></g>
<g id="M4" transform="translate(1746,4691)"><rect width="234" height="68" rx="4"/><text y="16.5"><tspan x="6.5">4、甲方在接到需方书面异议后，应在十天内(</tspan><tspan x="6.5" dy="14.5">另有规定或当事人另行商定期限者除外)负责</tspan><tspan x="6.5" dy="14.5">处理，否则，即视为默认甲方提出的异议和处</tspan><tspan x="6.5" dy="14.5">理意见。</tspan></text></g>
<g id="N1" transform="translate(1723,5115)"><rect width="107" height="25" rx="4"/><text x="6.5" y="16.5">(一)甲方违约责任：</text></g>
<g id="N2" transform="translate(1723,5691)"><rect width="119" height="25" rx="4"/><text x="6.5" y="16.5">(二)乙方的违约责任：</text></g>
<g id="O1" transform="translate(1851,4783)"><rect width="235" height="39" rx="4"/><text y="16.5"><tspan x="6.5">1、甲方不能交货的，应向乙方偿付不能交货</tspan><tspan x="6.5" dy="14.5">部分货款的%的违约金。</tspan></text></g>
<g id="O2" transform="translate(1851,4848)"><rect width="235" height="97" rx="4"/><text y="16.5"><tspan x="6.5">2、甲方所交产品品种、规格、质量不符合同</tspan><tspan x="6.5" dy="14.5">规定的，如果乙方同意利用，应当按质论价;</tspan><tspan x="6.5" dy="14.5">如果乙方不能利用的，应根据产品的具体情况</tspan><tspan x="6.5" dy="14.5">，由甲方负责包换或包修，并承担修理、调换</tspan><tspan x="6.5" dy="14.5">或退货而支付的实际费用。甲方不能修理或者</tspan><tspan x="6.5" dy="14.5">不能调换的，按不能交货处理。</tspan></text></g>
<g id="O3" transform="translate(1851,4969)"><rect width="235" height="111.5" rx="4"/><text y="16.5"><tspan x="6.5">3、甲方因产品包装不符合同规定，必须返修</tspan><tspan x="6.5" dy="14.5">或重新包装的，甲方应负责返修或重新包装，</tspan><tspan x="6.5" dy="14.5">并承担支付的费用。乙方不要求返修或重新包</tspan><tspan x="6.5" dy="14.5">装而要求赔偿损失的，甲方应当偿付乙方该不</tspan><tspan x="6.5" dy="14.5">合格包装物低于合格包装物的价值部分。因包</tspan><tspan x="6.5" dy="14.5">装不符合规定造成货物损坏或灭失的，甲方应</tspan><tspan x="6.5" dy="14.5">当负责赔偿。</tspan></text></g>
<g id="O4" transform="translate(1851,5104)"><rect width="235" height="53.5" rx="4"/><text y="16.5"><tspan x="6.5">4、甲方逾期交货的，应按全部货款金额每日</tspan><tspan x="6.5" dy="14.5">千分之一计算，向乙方偿付逾期交货的违约金</tspan><tspan x="6.5" dy="14.5">，并承担乙方因此所受的损失费用。</tspan></text></g>
<g id="O5" transform="translate(1851,5182)"><rect width="235" height="68" rx="4"/><text y="16.5"><tspan x="6.5">5、甲方提前交货的产品、多交的产品和品种</tspan><tspan x="6.5" dy="14.5">、质量不符合规定的产品，乙方在代保管期内</tspan><tspan x="6.5" dy="14.5">实际支付的保管等费用以及非因乙方保管不善</tspan><tspan x="6.5" dy="14.5">而发生的损失，应当由甲方承担。</tspan></text></g>
<g id="O6" transform="translate(1851,5275)"><rect width="235" height="97" rx="4"/><text y="16.5"><tspan x="6.5">6、产品错发到货地点或接货人的，甲方除应</tspan><tspan x="6.5" dy="14.5">负责运交合同规定的到货地点或接货人外，还</tspan><tspan x="6.5" dy="14.5">应承担乙方因此多支付的一切实际费用和逾期</tspan><tspan x="6.5" dy="14.5">交货的违约金。甲方未经乙方同意，单方面改</tspan><tspan x="6.5" dy="14.5">变运输路线和运输工具的，应当承担由此增加</tspan><tspan x="6.5" dy="14.5">的费用。</tspan></text></g>
<g id="O7" transform="translate(1851,5396)"><rect width="235" height="111.5" rx="4"/><text y="16.5"><tspan x="6.5">7、甲方提前交货的，乙方接货后，仍可按合</tspan><tspan x="6.5" dy="14.5">同规定的交货时间付款;甲方逾期交货的，甲</tspan><tspan x="6.5" dy="14.5">方应在发货前与乙方协商，乙方仍需要的，甲</tspan><tspan x="6.5" dy="14.5">方应照数补交，并负逾期交货责任;乙方不再</tspan><tspan x="6.5" dy="14.5">需要的，应当在接到甲方通知后十五天内通知</tspan><tspan x="6.5" dy="14.5">甲方，办理解除合同手续，逾期不答复的，视</tspan><tspan x="6.5" dy="14.5">为同意发货。</tspan></text></g>
<g id="P1" transform="translate(1863,5533)"><rect width="234" height="39" rx="4"/><text y="16.5"><tspan x="6.5">1、乙方中途退货，应向乙方偿付退货部分货</tspan><tspan x="6.5" dy="14.5">款%的违约金。</tspan></text></g>
<g id="P2" transform="translate(1863,5598)"><rect width="234" height="82.5" rx="4"/><text y="16.5"><tspan x="6.5">2、乙方自提产品未按供方通知的日期或合同</tspan><tspan x="6.5" dy="14.5">规定的日期提货的，应按全部货款金额每日千</tspan><tspan x="6.5" dy="14.5">分之一计算，向甲方偿付逾期提货的违约金，</tspan><tspan x="6.5" dy="14.5">并承担甲方实际支付的代为保管、保养的费用</tspan><tspan x="6.5" dy="14.5">。</tspan></text></g>
<g id="P3" transform="translate(1863,5705)"><rect width="234" height="39" rx="4"/><text y="16.5"><tspan x="6.5">3、乙方逾期付款的，应按全部货款金额每日</tspan><tspan x="6.5" dy="14.5">千分之一计算向甲方偿付逾期付款的违约金。</tspan></text></g>
<g id="P4" transform="translate(1863,5769)"><rect width="234" height="39" rx="4"/><text y="16.5"><tspan x="6.5">4、乙方违反合同规定拒绝接货的，应当承担</tspan><tspan x="6.5" dy="14.5">由此造成的损失和运输部门的罚款。</tspan></text></g>
<g id="P5" transform="translate(1863,5834)"><rect width="234" height="39" rx="4"/><text y="16.5"><tspan x="6.5">5、乙方如错填到货地点或接货人，或对甲方</tspan><tspan x="6.5" dy="14.5">提出错误异议，应承担甲方因此所受的损失。</tspan></text></g>
<g id="Q1" transform="translate(1712,5898)"><rect width="234" height="53.5" rx="4"/><text y="16.5"><tspan x="6.5">1、本合同自双方签字盖章之日起生效。合同</tspan><tspan x="6.5" dy="14.5">有效期内，除非经过对方同意，或者另有法定</tspan><tspan x="6.5" dy="14.5">理由，任何一方不得变更或解除合同。</tspan></text></g>
<g id="Q2" transform="translate(1712,5976)"><rect width="234" height="82.5" rx="4"/><text y="16.5"><tspan x="6.5">2、合同如有未尽事宜，须经双方共同协商，</tspan><tspan x="6.5" dy="14.5">作出补充规定，补充规定与本合同具有同等效</tspan><tspan x="6.5" dy="14.5">力。双方签订确认的订货单或传真件是本合同</tspan><tspan x="6.5" dy="14.5">的有效组成部分，具体产品以订货单为准，传</tspan><tspan x="6.5" dy="14.5">真件具有同等法律效力。</tspan></text></g>
<g id="Q3" transform="translate(1712,6084)"><rect width="234" height="68" rx="4"/><text y="16.5"><tspan x="6.5">3、双方来往函件，按照合同规定的地址以特</tspan><tspan x="6.5" dy="14.5">快专递方式送达对方。如一方地址、电话、传</tspan><tspan x="6.5" dy="14.5">真号码有变更，应在变更后的两日内书面通知</tspan><tspan x="6.5" dy="14.5">对方，否则，应承担相应责任。</tspan></text></g>
<g id="Q4" transform="translate(1712,6227)"><rect width="218" height="25" rx="4"/><text x="6.5" y="16.5">4、本合同正本一式两份，双方各执壹份。</text></g>
<g id="Q4a" transform="translate(1951,6177)"><rect width="75" height="25" rx="4"/><text x="6.5" y="16.5">甲方：(盖章)</text></g>
<g id="Q4b" transform="translate(1951,6227)"><rect width="75" height="25" rx="4"/><text x="6.5" y="16.5">乙方：(盖章)</text></g>
<g id="Q4c" transform="translate(1951,6276)"><rect width="45" height="25" rx="4"/><text x="6.5" y="16.5">年月日</text></g>
</g>

<g id="b2" class="b">
<g id="R1" transform="translate(891,549)"><rect width="56" height="25" rx="4"/><text x="6.5" y="16.5">供货商：</text></g>
<g id="R2" transform="translate(899,598)"><rect width="48" height="25" rx="4"/><text x="6.5" y="16.5">需 方：</text></g>
<g id="R2a" transform="translate(755,598)"><rect width="123" height="25" rx="4"/><text x="6.5" y="16.5" xml:space="preserve">审核情况：       (章)</text></g>
<g id="R3" transform="translate(885,1041)"><rect width="62" height="25" rx="4"/><text x="6.5" y="16.5">审 核 人：</text></g>
<g id="R4" transform="translate(880,1840)"><rect width="67" height="25" rx="4"/><text x="6.5" y="16.5">验收标准：</text></g>
<g id="R5" transform="translate(724,2618)"><rect width="223" height="25" rx="4"/><text x="6.5" y="16.5" xml:space="preserve">采购单位（签章）          供货商（签章）：</text></g>
<g id="R6" transform="translate(819,2667)"><rect width="128" height="25" rx="4"/><text x="6.5" y="16.5" xml:space="preserve">地址：                   地址：</text></g>
<g id="R7" transform="translate(819,2717)"><rect width="128" height="25" rx="4"/><text x="6.5" y="16.5" xml:space="preserve">电话：                   电话：</text></g>
<g id="R8" transform="translate(781,2766)"><rect width="166" height="25" rx="4"/><text x="6.5" y="16.5" xml:space="preserve">开户银行：                开户银行：</text></g>
<g id="R9" transform="translate(819,2815)"><rect width="128" height="25" rx="4"/><text x="6.5" y="16.5" xml:space="preserve">账号：                   账号：</text></g>
<g id="R9a" transform="translate(659,2815)"><rect width="139" height="25" rx="4"/><text x="6.5" y="16.5" xml:space="preserve">合同签订日期：  年  月  日</text></g>
<g id="S1" transform="translate(740,647)"><rect width="124" height="25" rx="4"/><text x="6.5" y="16.5" xml:space="preserve">审核时间：    年  月  日</text></g>
<g id="S2" transform="translate(629,697)"><rect width="235" height="97" rx="4"/><text y="16.5"><tspan x="6.5">为了保护供需各方合法权益，根据《^v^政</tspan><tspan x="6.5" dy="14.5">府采购法》、《^v^合同法》等相关法律法</tspan><tspan x="6.5" dy="14.5">规的规定并严格遵循（项目名称）（招标编号</tspan><tspan x="6.5" dy="14.5">：lczXX017）招标文件、"_____市政府采购</tspan><tspan x="6.5" dy="14.5">供货协议"中的相关规定，签订本合同，并共</tspan><tspan x="6.5" dy="14.5">同遵守。</tspan></text></g>
<g id="S3" transform="translate(641,868)"><rect width="223" height="25" rx="4"/><text x="6.5" y="16.5">一、合同采购的产品所需资金来源构成为：</text></g>
<g id="S4" transform="translate(629,1004)"><rect width="235" height="39" rx="4"/><text y="16.5"><tspan x="6.5">二、空调品牌、型号、规格和主要配置、单价</tspan><tspan x="6.5" dy="14.5">、数量、金额</tspan></text></g>
<g id="S5" transform="translate(785,1162)"><rect width="79" height="25" rx="4"/><text x="6.5" y="16.5">三、保修期：</text></g>
<g id="S6" transform="translate(629,1318)"><rect width="235" height="53.5" rx="4"/><text y="16.5"><tspan x="6.5">四、交（提）货时间、地点、方式：供货商于</tspan><tspan x="6.5" dy="14.5"> 年 月 日前将货物送至以下指定地点交由采购</tspan><tspan x="6.5" dy="14.5">单位指定收货人：</tspan></text></g>
<g id="S7" transform="translate(698,1434)"><rect width="166" height="25" rx="4"/><text x="6.5" y="16.5">五、验收标准及提出异议时间：</text></g>
<g id="T1" transform="translate(409,818)"><rect width="211" height="25" rx="4"/><text x="6.5" y="16.5">预算内（）；预算外（）；自筹（）。</text></g>
<g id="T2" transform="translate(416,867)"><rect width="204" height="25" rx="4"/><text x="6.5" y="16.5">付款方式为：会计核算中心支付（）。</text></g>
<g id="T3" transform="translate(413,917)"><rect width="207" height="25" rx="4"/><text x="6.5" y="16.5">以上按实际情况打"√"确认，涂改无效。</text></g>
<g id="T4" transform="translate(374,966)"><rect width="235" height="53.5" rx="4"/><text y="16.5"><tspan x="6.5">注：1.若单次采购金额大于人民币20万元，采</tspan><tspan x="6.5" dy="14.5">购单位必须按有关规定报政府采购监督管理部</tspan><tspan x="6.5" dy="14.5">门重新确定采购方式。</tspan></text></g>
<g id="T5" transform="translate(393,1045)"><rect width="216" height="25" rx="4"/><text x="6.5" y="16.5">2.优惠率=（1-投标报价/基准价）×100%</text></g>
<g id="T6" transform="translate(531,1094)"><rect width="233" height="39" rx="4"/><text y="16.5"><tspan x="6.5">上述产品的保修期为（）月；免费更换时间</tspan><tspan x="6.5" dy="14.5">为交货后（）月</tspan></text></g>
<g id="T7" transform="translate(531,1158)"><rect width="233" height="39" rx="4"/><text y="16.5"><tspan x="6.5">故障响应时间为：（）小时内；故障排除时</tspan><tspan x="6.5" dy="14.5">间为：（）小时内；</tspan></text></g>
<g id="T8" transform="translate(571,1221)"><rect width="193" height="25" rx="4"/><text x="6.5" y="16.5">备品备件提供时间为：（）小时内。</text></g>
<g id="T9" transform="translate(374,1271)"><rect width="235" height="39" rx="4"/><text y="16.5"><tspan x="6.5">1.供货商应在交货前向采购单位提供交货计划</tspan><tspan x="6.5" dy="14.5">；</tspan></text></g>
<g id="T10" transform="translate(388,1334)"><rect width="221" height="25" rx="4"/><text x="6.5" y="16.5">2.运输、保险和装卸的费用由供货商承担；</text></g>
<g id="T11" transform="translate(409,1383)"><rect width="200" height="25" rx="4"/><text x="6.5" y="16.5">3.协议定点采购单位均免费送货上门。</text></g>
<g id="U1" transform="translate(625,1483)"><rect width="234" height="39" rx="4"/><text y="16.5" xml:space="preserve"><tspan x="6.5">1.《     市政府采购供货协议》第三、五、八</tspan><tspan x="6.5" dy="14.5">、十二、十三条。</tspan></text></g>
<g id="U2" transform="translate(791,1547)"><rect width="68" height="25" rx="4"/><text x="6.5" y="16.5">2. 装箱单；</text></g>
<g id="U3" transform="translate(625,1603)"><rect width="234" height="39" rx="4"/><text y="16.5"><tspan x="6.5">3. 供货商保证一次开箱合格率大于98%（百</tspan><tspan x="6.5" dy="14.5">分之九十八）。</tspan></text></g>
<g id="U3a" transform="translate(369,1595)"><rect width="235" height="53.5" rx="4"/><text y="16.5"><tspan x="6.5">六、货款结算：采购单位在货物验收合格后</tspan><tspan x="6.5" dy="14.5">工作日内全额支付给供货商货款。（最长不超</tspan><tspan x="6.5" dy="14.5">过15个工作日）</tspan></text></g>
<g id="U3a1" transform="translate(259,1610)"><rect width="90" height="25" rx="4"/><text x="6.5" y="16.5">七、违约责任：</text></g>
<g id="U4" transform="translate(625,1674)"><rect width="234" height="82.5" rx="4"/><text y="16.5"><tspan x="6.5">1.供货商逾期履行合同的，自逾期之日起，向</tspan><tspan x="6.5" dy="14.5">采购单位每日偿付合同总价万分之三的滞纳金</tspan><tspan x="6.5" dy="14.5">；供货商逾期30日不能交货的，应向采购单</tspan><tspan x="6.5" dy="14.5">位支付合同总价百分之五的违约金，并且不再</tspan><tspan x="6.5" dy="14.5">退还履约保证金。</tspan></text></g>
<g id="U5" transform="translate(625,1781)"><rect width="234" height="68" rx="4"/><text y="16.5"><tspan x="6.5">2.采购单位逾期支付货款的，自逾期之日起，</tspan><tspan x="6.5" dy="14.5">向供货商每日偿付合同总价万分之三的滞纳金</tspan><tspan x="6.5" dy="14.5">；采购单位无正当理由拒付货款的，应向供货</tspan><tspan x="6.5" dy="14.5">商偿付合同总价百分之五的违约金。</tspan></text></g>
<g id="U6" transform="translate(625,2157)"><rect width="234" height="82.5" rx="4"/><text y="16.5"><tspan x="6.5">3、供货商在协议供货有效期内违反本合同有</tspan><tspan x="6.5" dy="14.5">关质量保证及售后服务的，将予以没收履约保</tspan><tspan x="6.5" dy="14.5">证金，损失赔偿不足部分，按本合同第七条处</tspan><tspan x="6.5" dy="14.5">理；在协议供货有效期外发生质量问题的，按</tspan><tspan x="6.5" dy="14.5">本合同第七条处理。</tspan></text></g>
<g id="V1" transform="translate(369,1990)"><rect width="235" height="39" rx="4"/><text y="16.5"><tspan x="6.5">八、因合同执行而产生问题的解决方式：（可</tspan><tspan x="6.5" dy="14.5">多选）</tspan></text></g>
<g id="V2" transform="translate(492,2376)"><rect width="112" height="25" rx="4"/><text x="6.5" y="16.5">九、其他约定事项：</text></g>
<g id="W1" transform="translate(207,1874)"><rect width="142" height="25" rx="4"/><text x="6.5" y="16.5">（1）双方协商解决（）；</text></g>
<g id="W2" transform="translate(152,1923)"><rect width="197" height="25" rx="4"/><text x="6.5" y="16.5">（2）向供货商指定协调人反映（）；</text></g>
<g id="W3" transform="translate(194,1972)"><rect width="155" height="25" rx="4"/><text x="6.5" y="16.5">（3）向采购中心反映（）；</text></g>
<g id="W4" transform="translate(152,2021)"><rect width="197" height="25" rx="4"/><text x="6.5" y="16.5">（4）向政府采购管理部门投诉（）；</text></g>
<g id="W5" transform="translate(228,2071)"><rect width="121" height="25" rx="4"/><text x="6.5" y="16.5">（5）提请仲裁（）；</text></g>
<g id="W6" transform="translate(180,2120)"><rect width="169" height="25" rx="4"/><text x="6.5" y="16.5">（6）向人民法院提起诉讼（）。</text></g>
<g id="X1" transform="translate(238,2170)"><rect width="234" height="82.5" rx="4"/><text y="16.5"><tspan x="6.5">（1）采购单位凭"_____市政府采购协议供货</tspan><tspan x="6.5" dy="14.5">通知和验收结算单"与供货商签定本合同，"供</tspan><tspan x="6.5" dy="14.5">货结算单"应作为合同的附件。合同中采购产</tspan><tspan x="6.5" dy="14.5">品的品牌、型号、数量等应于"供货结算单"上</tspan><tspan x="6.5" dy="14.5">所限定的相一致。</tspan></text></g>
<g id="X2" transform="translate(238,2277)"><rect width="234" height="97" rx="4"/><text y="16.5"><tspan x="6.5">（2）_____市政府采购中心空调政府采购协</tspan><tspan x="6.5" dy="14.5">议供货项目（采购编号：lczXX017）招标文</tspan><tspan x="6.5" dy="14.5">件以及投标文件、询标纪要、"_____市政府</tspan><tspan x="6.5" dy="14.5">采购供货协议"、"_____市政府采购协议供货</tspan><tspan x="6.5" dy="14.5">承诺书"是本合同不可分割的组成部分，本合</tspan><tspan x="6.5" dy="14.5">同未尽事宜从其规定。</tspan></text></g>
<g id="X3" transform="translate(238,2398)"><rect width="234" height="53.5" rx="4"/><text y="16.5"><tspan x="6.5">（3）本合同一式3联，供货商、采购单位、</tspan><tspan x="6.5" dy="14.5">招投标中心各1联，由供货商每月在结算时统</tspan><tspan x="6.5" dy="14.5">一向县招投标中心汇总上报。</tspan></text></g>
<g id="X4" transform="translate(238,2476)"><rect width="234" height="39" rx="4"/><text y="16.5"><tspan x="6.5">（4）本合同需经县招投标中心政府采购审核</tspan><tspan x="6.5" dy="14.5">并加盖专用章后方为有效。</tspan></text></g>
<g id="X5" transform="translate(238,2540)"><rect width="234" height="53.5" rx="4"/><text y="16.5"><tspan x="6.5">（5）本合同经供货商和采购单位签字、盖章</tspan><tspan x="6.5" dy="14.5">后生效。合同内容如遇国家法律、法规及政策</tspan><tspan x="6.5" dy="14.5">另有规定的，从其规定。</tspan></text></g>
</g>

<g id="b4" class="v">
<g id="Y1" transform="translate(846,2864)"><rect width="101" height="25" rx="4"/><text x="6.5" y="16.5" xml:space="preserve">甲方：  公司(需方)</text></g>
<g id="Y2" transform="translate(846,2914)"><rect width="101" height="25" rx="4"/><text x="6.5" y="16.5" xml:space="preserve">乙方：  公司(供方)</text></g>
<g id="Y3" transform="translate(713,4444)"><rect width="234" height="39" rx="4"/><text y="16.5"><tspan x="6.5">甲乙双方经协商，就甲方向乙方采购空调设备</tspan><tspan x="6.5" dy="14.5">及安装事宜达成以下条款：</tspan></text></g>
<g id="Z1" transform="translate(514,2999)"><rect width="177" height="25" rx="4"/><text x="6.5" y="16.5">第一条：采购商品清单及协议价格</text></g>
<g id="Z2" transform="translate(558,3091)"><rect width="133" height="25" rx="4"/><text x="6.5" y="16.5">第二条：质量标准和要求</text></g>
<g id="Z3" transform="translate(569,3300)"><rect width="122" height="25" rx="4"/><text x="6.5" y="16.5">第三条：权利瑕疵担保</text></g>
<g id="Z4" transform="translate(592,3563)"><rect width="99" height="25" rx="4"/><text x="6.5" y="16.5">第四条：包装要求</text></g>
<g id="Z5" transform="translate(592,3666)"><rect width="99" height="25" rx="4"/><text x="6.5" y="16.5">第五条：交货时间</text></g>
<g id="Z6" transform="translate(614,3862)"><rect width="77" height="25" rx="4"/><text x="6.5" y="16.5">第六条：验收</text></g>
<g id="Z7" transform="translate(592,4068)"><rect width="99" height="25" rx="4"/><text x="6.5" y="16.5">第七条：售后服务</text></g>
<g id="Z8" transform="translate(581,4298)"><rect width="110" height="25" rx="4"/><text x="6.5" y="16.5">第八条：货款的支付</text></g>
<g id="Z9" transform="translate(592,4541)"><rect width="99" height="25" rx="4"/><text x="6.5" y="16.5">第九条：质量保证</text></g>
<g id="Z10" transform="translate(558,4872)"><rect width="133" height="25" rx="4"/><text x="6.5" y="16.5">第十条：补救措施和索赔</text></g>
<g id="Z11" transform="translate(581,5245)"><rect width="110" height="25" rx="4"/><text x="6.5" y="16.5">第十一条：履约延误</text></g>
<g id="Z12" transform="translate(581,5533)"><rect width="110" height="25" rx="4"/><text x="6.5" y="16.5">第十二条：不可抗力</text></g>
<g id="Z13" transform="translate(569,5743)"><rect width="122" height="25" rx="4"/><text x="6.5" y="16.5">第十三条：争议的解决</text></g>
<g id="Z14" transform="translate(581,5905)"><rect width="110" height="25" rx="4"/><text x="6.5" y="16.5">第十四条：协议生效</text></g>
<g id="a1" transform="translate(258,2964)"><rect width="234" height="39" rx="4"/><text y="16.5" xml:space="preserve"><tspan x="6.5">乙方保证提供如下内容的合格产品：  金额单</tspan><tspan x="6.5" dy="14.5">位：元详见采购清单</tspan></text></g>
<g id="a2" transform="translate(322,3027)"><rect width="170" height="25" rx="4"/><text x="6.5" y="16.5" xml:space="preserve">以上产品总金额 万元(大写：  元)</text></g>
<g id="a3" transform="translate(303,3077)"><rect width="234" height="53.5" rx="4"/><text y="16.5"><tspan x="6.5">乙方保证本协议中所供产品质量符合国家规定</tspan><tspan x="6.5" dy="14.5">的标准，并通过iso9001国际质量管理体系认</tspan><tspan x="6.5" dy="14.5">证以及通过3c中国强制性产品认证。</tspan></text></g>
<g id="a4" transform="translate(314,3155)"><rect width="234" height="39" rx="4"/><text y="16.5"><tspan x="6.5">1、乙方保证对其出售的货物享有合法的权利</tspan><tspan x="6.5" dy="14.5">。</tspan></text></g>
<g id="a5" transform="translate(314,3218)"><rect width="234" height="53.5" rx="4"/><text y="16.5"><tspan x="6.5">2、乙方保证在其出售的货物上不存在任何未</tspan><tspan x="6.5" dy="14.5">曾向甲方透露的担保物权，如抵押权、质押权</tspan><tspan x="6.5" dy="14.5">、留置权等。</tspan></text></g>
<g id="a6" transform="translate(314,3297)"><rect width="234" height="39" rx="4"/><text y="16.5"><tspan x="6.5">3、乙方保证其所出售的货物没有侵犯任何第</tspan><tspan x="6.5" dy="14.5">三人的知识产权和商业秘密等权利。</tspan></text></g>
<g id="a7" transform="translate(314,3360)"><rect width="234" height="39" rx="4"/><text y="16.5"><tspan x="6.5">4、如使用该货物构成上述侵权的，则由乙方</tspan><tspan x="6.5" dy="14.5">承担全部责任。</tspan></text></g>
<g id="a8" transform="translate(314,3425)"><rect width="234" height="53.5" rx="4"/><text y="16.5"><tspan x="6.5">5、乙方负责安装，并承担验收合格前发生的</tspan><tspan x="6.5" dy="14.5">安全责任，验收合格前该货物的财产所有权归</tspan><tspan x="6.5" dy="14.5">乙方所有，验收后归甲方所有。</tspan></text></g>
<g id="a9" transform="translate(336,3502)"><rect width="234" height="68" rx="4"/><text y="16.5"><tspan x="6.5">1、乙方所出售的全部货物均应按标准保护措</tspan><tspan x="6.5" dy="14.5">施进行包装，这类包装应适应于远距离运输、</tspan><tspan x="6.5" dy="14.5">防潮、防震、防锈和防野蛮装卸等要求，以确</tspan><tspan x="6.5" dy="14.5">保货物安全无损地运抵指定现场。</tspan></text></g>
<g id="a10" transform="translate(336,3595)"><rect width="234" height="39" rx="4"/><text y="16.5"><tspan x="6.5">2、每一个包装箱内应附有出厂标准配器的有</tspan><tspan x="6.5" dy="14.5">关技术、质量、三包等资料。</tspan></text></g>
<g id="a11" transform="translate(336,3659)"><rect width="234" height="39" rx="4"/><text y="16.5"><tspan x="6.5">乙方应在签署本合同后 30 个工作日内派人免</tspan><tspan x="6.5" dy="14.5">费送货至甲方指定地点并安装完毕。</tspan></text></g>
<g id="a12" transform="translate(358,3723)"><rect width="234" height="169.5" rx="4"/><text y="16.5"><tspan x="6.5">乙方将空调送货至甲方指定地点后，由甲方根</tspan><tspan x="6.5" dy="14.5">据货物的技术规格要求和质量标准，对货物进</tspan><tspan x="6.5" dy="14.5">行清点，清点后由乙方进行安装，在安装完毕</tspan><tspan x="6.5" dy="14.5">且经乙方验收后，方视为验收合格，由甲方签</tspan><tspan x="6.5" dy="14.5">署验收意见及加盖单位公章。货物的数量不足</tspan><tspan x="6.5" dy="14.5">或表面瑕疵，甲方应在验收时当面提出;对质</tspan><tspan x="6.5" dy="14.5">量问题有异议的应在安装调试后7个工作日内</tspan><tspan x="6.5" dy="14.5">提出。在验收过程中发现数量不足或有质量、</tspan><tspan x="6.5" dy="14.5">技术等问题，乙方应负责按照甲方的要求采取</tspan><tspan x="6.5" dy="14.5">补足、更换或退货等处理措施，并承担由此发</tspan><tspan x="6.5" dy="14.5">生的一切费用和损失。</tspan></text></g>
<g id="a13" transform="translate(358,3916)"><rect width="234" height="53.5" rx="4"/><text y="16.5"><tspan x="6.5">甲方在乙方按合同规定交货和安装、调试后，</tspan><tspan x="6.5" dy="14.5">无正当理由而拖延接收、验收或拒绝接收、验</tspan><tspan x="6.5" dy="14.5">收的，应承担由此而造成的乙方直接损失。</tspan></text></g>
<g id="a14" transform="translate(336,3993)"><rect width="234" height="39" rx="4"/><text y="16.5"><tspan x="6.5">1、乙方承诺售后服务按照投标产品的服务承</tspan><tspan x="6.5" dy="14.5">诺实施。</tspan></text></g>
<g id="a15" transform="translate(336,4057)"><rect width="234" height="39" rx="4"/><text y="16.5"><tspan x="6.5">2、在非正常工作时间，应能为甲方提供紧急</tspan><tspan x="6.5" dy="14.5">维修服务(在质量保证期内)。</tspan></text></g>
<g id="a16" transform="translate(336,4121)"><rect width="234" height="53.5" rx="4"/><text y="16.5"><tspan x="6.5">3、对所有空调每年至少进行1次免费保养，</tspan><tspan x="6.5" dy="14.5">并确保空调的制冷、制热效果达到国家有关标</tspan><tspan x="6.5" dy="14.5">准。</tspan></text></g>
<g id="a17" transform="translate(325,4198)"><rect width="234" height="39" rx="4"/><text y="16.5" xml:space="preserve"><tspan x="6.5">按甲方议定的货物采购清单及单价，本合同货</tspan><tspan x="6.5" dy="14.5">款总金额为 万元(大写：  元)</tspan></text></g>
<g id="a18" transform="translate(325,4262)"><rect width="234" height="53.5" rx="4"/><text y="16.5"><tspan x="6.5">1、合同签订之日起 个工作日内，甲方向乙方</tspan><tspan x="6.5" dy="14.5">交付总合同款的 %作为定金，并于货物验收</tspan><tspan x="6.5" dy="14.5">合格之日起 个工作日内，将货款付清;</tspan></text></g>
<g id="a19" transform="translate(325,4342)"><rect width="234" height="126" rx="4"/><text y="16.5"><tspan x="6.5">2、乙方交货后，并收回全部货款前，应与甲</tspan><tspan x="6.5" dy="14.5">方签署一份质量保证协议，并向甲方交付质量</tspan><tspan x="6.5" dy="14.5">保证金 元，该协议有效期为 年，协议期满后</tspan><tspan x="6.5" dy="14.5">，如无任何质量问题或纠纷，甲方应全额退还</tspan><tspan x="6.5" dy="14.5">质量保证金，如有售后维修或质量问题，甲方</tspan><tspan x="6.5" dy="14.5">有权在通知乙方后，扣除相应质量保证作为损</tspan><tspan x="6.5" dy="14.5">失补偿。双方签署的《质量保证协议》并不影</tspan><tspan x="6.5" dy="14.5">响本合同第11条、12条的效力。</tspan></text></g>
<g id="a20" transform="translate(336,4491)"><rect width="234" height="25" rx="4"/><text x="6.5" y="16.5">乙方所供产品应严格履行产品质量保证承诺。</text></g>
<g id="a21" transform="translate(336,4540)"><rect width="234" height="126" rx="4"/><text y="16.5"><tspan x="6.5">在质量保证期内，如果货物的质量或规格与协</tspan><tspan x="6.5" dy="14.5">议不符，或证实货物是有缺陷的，包括潜在的</tspan><tspan x="6.5" dy="14.5">缺陷或使用不符合要求的材料等，甲方可以根</tspan><tspan x="6.5" dy="14.5">据本协议第13条规定以书面形式向乙方提出</tspan><tspan x="6.5" dy="14.5">补救措施或索赔。乙方在约定的时间内未能弥</tspan><tspan x="6.5" dy="14.5">补缺陷，甲方可采取必要的补救措施，但其风</tspan><tspan x="6.5" dy="14.5">险和费用将由乙方承担，甲方根据协议规定对</tspan><tspan x="6.5" dy="14.5">乙方行使的其他权利不受影响。</tspan></text></g>
<g id="a22" transform="translate(303,4690)"><rect width="234" height="39" rx="4"/><text y="16.5"><tspan x="6.5">1、甲方有权根据质量检测部门出具的检验证</tspan><tspan x="6.5" dy="14.5">书向乙方提出索赔。</tspan></text></g>
<g id="a23" transform="translate(303,4826)"><rect width="234" height="53.5" rx="4"/><text y="16.5"><tspan x="6.5">2、在质量保证期内，如果乙方对缺陷产品负</tspan><tspan x="6.5" dy="14.5">有责任而甲方提出索赔，乙方应按照甲方同意</tspan><tspan x="6.5" dy="14.5">的下列一种或多种方式解决索赔事宜：</tspan></text></g>
<g id="a23a" transform="translate(48,4754)"><rect width="234" height="39" rx="4"/><text y="16.5"><tspan x="6.5">(1)乙方同意退货，并将货款退还给甲方，由此</tspan><tspan x="6.5" dy="14.5">发生的一切损失和费用由乙方承担。</tspan></text></g>
<g id="a23b" transform="translate(48,4818)"><rect width="234" height="39" rx="4"/><text y="16.5"><tspan x="6.5">(2)根据货物的质量状况以及甲方所遭受的损</tspan><tspan x="6.5" dy="14.5">失，经过买卖双方商定降低货物的价格。</tspan></text></g>
<g id="a23c" transform="translate(48,4881)"><rect width="234" height="97" rx="4"/><text y="16.5"><tspan x="6.5">(3)乙方应在接到甲方通知后1天内负责采用符</tspan><tspan x="6.5" dy="14.5">合合同规定的规格、质量和性能要求的新零件</tspan><tspan x="6.5" dy="14.5">、部件和设备来更换有缺陷的部分或修补缺陷</tspan><tspan x="6.5" dy="14.5">部分，其费用由乙方负担。同时，乙方应在约</tspan><tspan x="6.5" dy="14.5">定的质量保证期基础上相应延长修补和(或)更</tspan><tspan x="6.5" dy="14.5">换件的质量保证期。</tspan></text></g>
<g id="a24" transform="translate(303,5002)"><rect width="234" height="111.5" rx="4"/><text y="16.5"><tspan x="6.5">3、如果在甲方发出索赔通知后7天内乙方未</tspan><tspan x="6.5" dy="14.5">作答复，上述索赔应视为已被乙方接受。如果</tspan><tspan x="6.5" dy="14.5">乙方未能在甲方发出索赔通知后7天内或甲方</tspan><tspan x="6.5" dy="14.5">同意延长的期限内，按照上述规定的任何一种</tspan><tspan x="6.5" dy="14.5">方法采取补救措施，甲方有权从应付货款中扣</tspan><tspan x="6.5" dy="14.5">除索赔金额，如不足以弥补甲方损失的，甲方</tspan><tspan x="6.5" dy="14.5">有权进一步要求乙方赔偿。</tspan></text></g>
<g id="a25" transform="translate(325,5138)"><rect width="234" height="39" rx="4"/><text y="16.5"><tspan x="6.5">1、乙方应按照本合同规定的时间、地点交货</tspan><tspan x="6.5" dy="14.5">和提供服务。</tspan></text></g>
<g id="a26" transform="translate(325,5201)"><rect width="234" height="97" rx="4"/><text y="16.5"><tspan x="6.5">2、在履行本合同过程中，如果乙方可能遇到</tspan><tspan x="6.5" dy="14.5">妨碍按时交货和提供服务的情况时，应及时将</tspan><tspan x="6.5" dy="14.5">拖延的事实、可能拖延的期限和理由通知甲方</tspan><tspan x="6.5" dy="14.5">。甲方在收到乙方通知后，应尽快对情况进行</tspan><tspan x="6.5" dy="14.5">评价，并确定是否同意延长交货时间或延期提</tspan><tspan x="6.5" dy="14.5">供服务。</tspan></text></g>
<g id="a27" transform="translate(325,5323)"><rect width="234" height="68" rx="4"/><text y="16.5"><tspan x="6.5">3、如乙方无正当理由而拖延交货，每逾期1</tspan><tspan x="6.5" dy="14.5">日乙方向甲方支付 5000 元违约金，逾期15</tspan><tspan x="6.5" dy="14.5">日以上，甲方有权解除本协议并追究乙方的违</tspan><tspan x="6.5" dy="14.5">约责任。</tspan></text></g>
<g id="a28" transform="translate(325,5416)"><rect width="234" height="53.5" rx="4"/><text y="16.5"><tspan x="6.5">1、如果协议各方因不可抗力而导致协议实施</tspan><tspan x="6.5" dy="14.5">延误或不能履行协议义务，不应该承担误期赔</tspan><tspan x="6.5" dy="14.5">偿或不能履行协议义务的责任。</tspan></text></g>
<g id="a29" transform="translate(325,5493)"><rect width="234" height="82.5" rx="4"/><text y="16.5"><tspan x="6.5">2、本条所述的"不可抗力"系指那些双方不可</tspan><tspan x="6.5" dy="14.5">预见、不可避免、不可克服的事件，但不包括</tspan><tspan x="6.5" dy="14.5">双方的违约或疏忽。这些事件包括但不限于：</tspan><tspan x="6.5" dy="14.5">战争、严重火灾、洪水、台风、地震、国家政</tspan><tspan x="6.5" dy="14.5">策的重大变化，以及双方商定的其他事件。</tspan></text></g>
<g id="a30" transform="translate(325,5600)"><rect width="234" height="97" rx="4"/><text y="16.5"><tspan x="6.5">3、在不可抗力事件发生后，当事方应尽快以</tspan><tspan x="6.5" dy="14.5">书面形式将不可抗力的情况和原因通知对方。</tspan><tspan x="6.5" dy="14.5">协议各方应尽可能继续履行协议义务，并积极</tspan><tspan x="6.5" dy="14.5">寻求采取合理的措施履行不受不可抗力影响的</tspan><tspan x="6.5" dy="14.5">其他事项。协议各方应通过友好协商在合理的</tspan><tspan x="6.5" dy="14.5">时间内达成进一步履行协议。</tspan></text></g>
<g id="a31" transform="translate(314,5721)"><rect width="234" height="68" rx="4"/><text y="16.5"><tspan x="6.5">在发生所供商品的质量、售后服务等问题时，</tspan><tspan x="6.5" dy="14.5">甲方有权直接向乙方索赔，签订必要的书面处</tspan><tspan x="6.5" dy="14.5">理协议。如双方调解不成，任何一方有权在甲</tspan><tspan x="6.5" dy="14.5">方所在地法院诉讼解决。</tspan></text></g>
<g id="a32" transform="translate(325,5814)"><rect width="234" height="39" rx="4"/><text y="16.5"><tspan x="6.5">1、本协议经甲乙签字并加盖双方公章后生效</tspan><tspan x="6.5" dy="14.5">。</tspan></text></g>
<g id="a33" transform="translate(353,5877)"><rect width="206" height="25" rx="4"/><text x="6.5" y="16.5">2、本协议一式三份，甲乙方各执一份。</text></g>
<g id="a34" transform="translate(325,5973)"><rect width="234" height="53.5" rx="4"/><text y="16.5"><tspan x="6.5">3、本协议若有修改，必须双方签署书面修改</tspan><tspan x="6.5" dy="14.5">协议，修改内容成为本协议不可分割的一部分</tspan><tspan x="6.5" dy="14.5">。</tspan></text></g>
<g id="a34a" transform="translate(73,5927)"><rect width="230" height="25" rx="4"/><text x="6.5" y="16.5">甲方(公章)：________乙方(公章)：________</text></g>
<g id="a34b" transform="translate(73,5976)"><rect width="230" height="39" rx="4"/><text y="16.5"><tspan x="6.5">法定代表人(签字)：______法定代表人(签</tspan><tspan x="6.5" dy="14.5">字)：______</tspan></text></g>
<g id="a34c" transform="translate(73,6040)"><rect width="230" height="39" rx="4"/><text y="16.5"><tspan x="6.5">_______年___月___日_______年___月___</tspan><tspan x="6.5" dy="14.5">日</tspan></text></g>
</g>
</g>
</svg>
